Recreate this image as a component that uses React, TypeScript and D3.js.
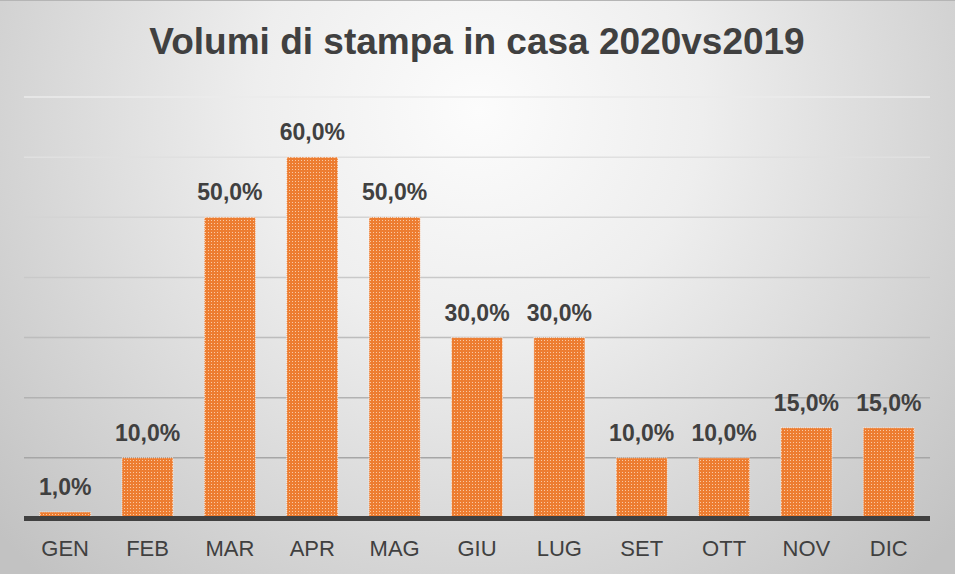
import React from "react";
import * as d3 from "d3";

const title = "Volumi di stampa in casa 2020vs2019";
const months = ["GEN", "FEB", "MAR", "APR", "MAG", "GIU", "LUG", "SET", "OTT", "NOV", "DIC"];
const values = [1, 10, 50, 60, 50, 30, 30, 10, 10, 15, 15];
const gridTicks = [10, 20, 30, 40, 50, 60, 70];

const W = 955;
const H = 574;

export default function App() {
  const x = d3.scaleBand<string>().domain(months).range([24, 930]).paddingInner(0.38).paddingOuter(0.19);
  const y = d3.scaleLinear().domain([0, 70]).range([518, 97]);
  const fmt = (v: number) => d3.format(".1f")(v).replace(".", ",") + "%";
  const gridColor = d3.scaleLinear<string>().domain([97, 458]).range(["#ebebeb", "#a6a6a6"]);
  const font = "'Liberation Sans', Arial, sans-serif";

  return (
    <div style={{ position: "absolute", left: 0, top: 0, width: W, height: H }}>
      <svg width={W} height={H} style={{ display: "block" }}>
        <defs>
          <radialGradient id="bg" gradientUnits="userSpaceOnUse" cx={478} cy={110} r={640}>
            <stop offset="0" stopColor="#fcfcfc" />
            <stop offset="0.35" stopColor="#eeeeee" />
            <stop offset="1" stopColor="#c2c2c2" />
          </radialGradient>
          <pattern id="dots" patternUnits="userSpaceOnUse" width={3} height={3}>
            <rect width={3} height={3} fill="#ED7D31" />
            <rect x={1} y={1} width={1} height={1} fill="#f9c9a4" />
          </pattern>
        </defs>
        <rect width={W} height={H} fill="url(#bg)" />
        <line x1={0} x2={W} y1={0.5} y2={0.5} stroke="#b5b5b5" strokeWidth={1} />
        <text x={477} y={54} textAnchor="middle" fontFamily={font} fontWeight="bold" fontSize={37} fill="#404040">
          {title}
        </text>
        {gridTicks.map((t) => (
          <line key={t} x1={24} x2={930} y1={y(t)} y2={y(t)} stroke={gridColor(y(t))} strokeWidth={1.5} />
        ))}
        {months.map((m, i) => (
          <g key={m}>
            <rect
              x={x(m)}
              y={y(values[i])}
              width={x.bandwidth()}
              height={y(0) - y(values[i])}
              fill="url(#dots)"
              stroke="#ffffff"
              strokeOpacity={0.8}
              strokeWidth={1}
              strokeDasharray="1,1"
            />
            <text
              x={(x(m) as number) + x.bandwidth() / 2}
              y={y(values[i]) - 17}
              textAnchor="middle"
              fontFamily={font}
              fontWeight="bold"
              fontSize={23}
              fill="#404040"
            >
              {fmt(values[i])}
            </text>
            <text
              x={(x(m) as number) + x.bandwidth() / 2}
              y={556}
              textAnchor="middle"
              fontFamily={font}
              fontSize={22}
              fill="#404040"
            >
              {m}
            </text>
          </g>
        ))}
        <line x1={24} x2={930} y1={518.5} y2={518.5} stroke="#404040" strokeWidth={5} />
      </svg>
    </div>
  );
}
